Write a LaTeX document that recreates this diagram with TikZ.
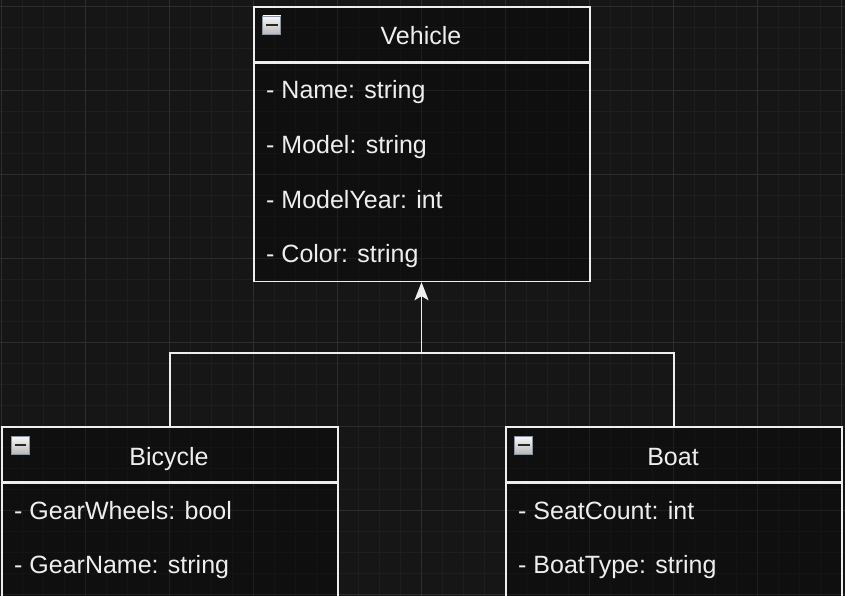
\documentclass[tikz,border=0pt]{standalone}
\usepackage{fontspec}
\setmainfont{Liberation Sans}
\usetikzlibrary{arrows.meta}
\definecolor{bg}{HTML}{161616}
\definecolor{gridminor}{HTML}{1E1E1E}
\definecolor{gridmajor}{HTML}{2D2D2D}
\definecolor{ink}{HTML}{EEEEEE}
\definecolor{iconedge}{HTML}{8C95A5}
\begin{document}
\begin{tikzpicture}[x=1pt, y=-1pt,
    classhead/.style={draw=ink, line width=1.6pt, fill=black, fill opacity=.3, anchor=north west, minimum width=336pt, minimum height=54.6pt, inner sep=0pt},
    classbody/.style={classhead, anchor=north},
    title/.style={text=ink, anchor=base, font=\fontsize{25}{30}\selectfont},
    attr/.style={text=ink, anchor=base west, inner sep=0pt, font=\fontsize{25}{30}\selectfont},
    icon/.style={draw=iconedge, line width=.9pt, top color=white!95!gray, bottom color=gray!55, minimum size=18pt, inner sep=0pt,
        path picture={\draw[line width=2.4pt, black!85] ([xshift=3.2pt]path picture bounding box.west) -- ([xshift=-3.2pt]path picture bounding box.east);}},
    conn/.style={draw=ink, line width=1.6pt}]
    \useasboundingbox (0,0) rectangle (845,596);
    \fill[bg] (0,0) rectangle (845,596);

    % grid
    \foreach \x in {1,22,...,845} \draw[gridminor, line width=.8pt] (\x,0) -- (\x,596);
    \foreach \y in {6,27,...,596} \draw[gridminor, line width=.8pt] (0,\y) -- (845,\y);
    \foreach \x in {1,85,...,845} \draw[gridmajor, line width=.9pt] (\x,0) -- (\x,596);
    \foreach \y in {6,90,...,596} \draw[gridmajor, line width=.9pt] (0,\y) -- (845,\y);

    % Vehicle
    \node[classhead] (vehH) at (253,6) {};
    \node[classbody, minimum height=218.4pt] (vehB) at (vehH.south) {};
    \node[icon] (vehI) at (271.8,25) {};
    \node[title] (vehT) at (421,45) {Vehicle};
    \node[attr] (name) at (266,99) {- Name: string};
    \node[attr] (model) at (266,153.6) {- Model: string};
    \node[attr] (year) at (266,208.2) {- ModelYear: int};
    \node[attr] (color) at (266,262.8) {- Color: string};

    % Bicycle
    \node[classhead] (bicH) at (1,426) {};
    \node[classbody, minimum height=126pt] (bicB) at (bicH.south) {};
    \node[icon] (bicI) at (20.3,445) {};
    \node[title] (bicT) at (169,465) {Bicycle};
    \node[attr] (wheels) at (14,519) {- GearWheels: bool};
    \node[attr] (gear) at (14,573.6) {- GearName: string};

    % Boat
    \node[classhead] (boatH) at (505,426) {};
    \node[classbody, minimum height=126pt] (boatB) at (boatH.south) {};
    \node[icon] (boatI) at (523.8,445) {};
    \node[title] (boatT) at (673,465) {Boat};
    \node[attr] (seats) at (518,519) {- SeatCount: int};
    \node[attr] (type) at (518,573.6) {- BoatType: string};

    % inheritance
    \coordinate (J) at (421.5,353);
    \draw[conn] (bicH.north) |- (J);
    \draw[conn] (boatH.north) |- (J);
    \draw[conn, -{Stealth[length=18pt, width=14pt, inset=4pt]}] (J) -- (J |- vehB.south);
\end{tikzpicture}
\end{document}
